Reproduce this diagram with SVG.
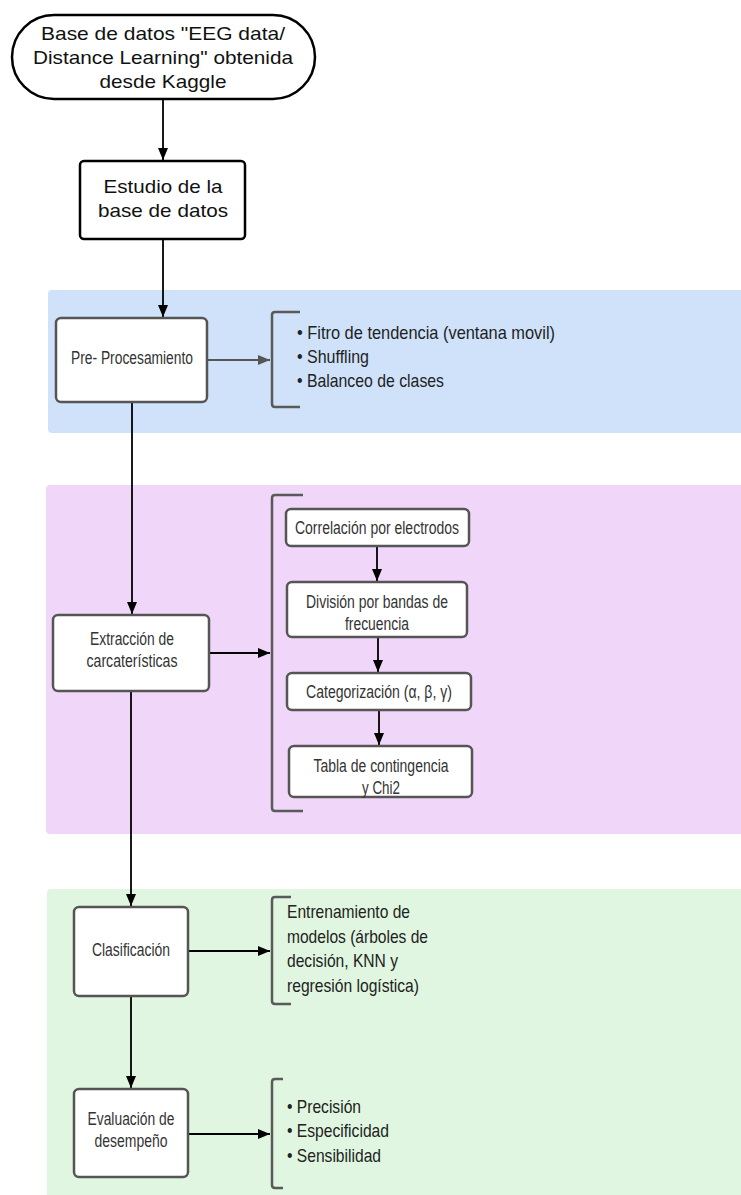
<svg xmlns="http://www.w3.org/2000/svg" width="741" height="1195" viewBox="0 0 741 1195">
<style>
.t{font-family:"Liberation Sans",Arial,sans-serif;font-size:19px;fill:#111;text-anchor:middle}
.n{font-family:"Liberation Sans",Arial,sans-serif;font-size:17.5px;fill:#333;text-anchor:middle}
.b{font-family:"Liberation Sans",Arial,sans-serif;font-size:18.5px;fill:#222}
.box{fill:#fff;stroke:#555;stroke-width:2.5}
.kbox{fill:#fff;stroke:#000;stroke-width:2.5}
.br{fill:none;stroke:#5a5a5a;stroke-width:2.5;stroke-linejoin:round}
.c{fill:none;stroke:#000;stroke-width:1.8}
.cg{fill:none;stroke:#555;stroke-width:1.8}
</style>
<defs>
<marker id="ah" markerUnits="userSpaceOnUse" markerWidth="12" markerHeight="12" viewBox="0 0 12 12" refX="12" refY="6" orient="auto"><path d="M0,1 L12,6 L0,11 Z" fill="#000"/></marker>
<marker id="ahg" markerUnits="userSpaceOnUse" markerWidth="12" markerHeight="12" viewBox="0 0 12 12" refX="12" refY="6" orient="auto"><path d="M0,1 L12,6 L0,11 Z" fill="#555"/></marker>
</defs>
<rect width="741" height="1195" fill="#fff"/>
<g id="bands">
<rect x="48" y="290" width="700" height="143" rx="4" fill="#cfe2fa"/>
<rect x="46" y="485" width="702" height="349" rx="4" fill="#f0d6f9"/>
<rect x="47" y="889" width="700" height="320" rx="4" fill="#e0f6e0"/>
</g>
<g id="connectors">
<line class="c" x1="163" y1="99" x2="163" y2="160" marker-end="url(#ah)"/>
<line class="c" x1="163" y1="239" x2="163" y2="317" marker-end="url(#ah)"/>
<line class="cg" x1="207" y1="360" x2="270" y2="360" marker-end="url(#ahg)"/>
<line class="c" x1="132" y1="402" x2="132" y2="614" marker-end="url(#ah)"/>
<line class="c" x1="209" y1="653" x2="270" y2="653" marker-end="url(#ah)"/>
<line class="c" x1="377" y1="546" x2="377" y2="581" marker-end="url(#ah)"/>
<line class="c" x1="378" y1="637" x2="378" y2="672" marker-end="url(#ah)"/>
<line class="c" x1="379" y1="710" x2="379" y2="745" marker-end="url(#ah)"/>
<line class="c" x1="131" y1="691" x2="131" y2="906" marker-end="url(#ah)"/>
<line class="c" x1="188" y1="951" x2="270" y2="951" marker-end="url(#ah)"/>
<line class="c" x1="131" y1="996" x2="131" y2="1088" marker-end="url(#ah)"/>
<line class="c" x1="188" y1="1134" x2="270" y2="1134" marker-end="url(#ah)"/>
</g>
<g id="start">
<rect class="kbox" x="12" y="15" width="303" height="84" rx="42"/>
<text class="t" x="163" y="40" textLength="244" lengthAdjust="spacingAndGlyphs">Base de datos "EEG data/</text>
<text class="t" x="163" y="64" textLength="260" lengthAdjust="spacingAndGlyphs">Distance Learning" obtenida</text>
<text class="t" x="163" y="88" textLength="127" lengthAdjust="spacingAndGlyphs">desde Kaggle</text>
</g>
<g id="estudio">
<rect class="kbox" x="80" y="161" width="165" height="78" rx="4"/>
<text class="t" x="163" y="193" textLength="119" lengthAdjust="spacingAndGlyphs">Estudio de la</text>
<text class="t" x="163" y="217" textLength="130" lengthAdjust="spacingAndGlyphs">base de datos</text>
</g>
<g id="preproc">
<rect class="box" x="56" y="318" width="151" height="84" rx="5"/>
<text class="n" x="132" y="364" textLength="122" lengthAdjust="spacingAndGlyphs">Pre- Procesamiento</text>
</g>
<g id="preproc-list">
<path class="br" d="M300,312 H275 Q272,312 272,315 V404 Q272,407 275,407 H300"/>
<text class="b" x="297" y="339" textLength="258" lengthAdjust="spacingAndGlyphs">• Fitro de tendencia (ventana movil)</text>
<text class="b" x="297" y="363" textLength="72" lengthAdjust="spacingAndGlyphs">• Shuffling</text>
<text class="b" x="297" y="387" textLength="147" lengthAdjust="spacingAndGlyphs">• Balanceo de clases</text>
</g>
<g id="extraccion">
<rect class="box" x="53" y="615" width="156" height="76" rx="5"/>
<text class="n" x="132" y="645" textLength="84" lengthAdjust="spacingAndGlyphs">Extracción de</text>
<text class="n" x="132" y="667" textLength="91" lengthAdjust="spacingAndGlyphs">carcaterísticas</text>
</g>
<g id="extraccion-list">
<path class="br" d="M303,495 H275 Q272,495 272,498 V808 Q272,811 275,811 H303"/>
</g>
<g id="correlacion">
<rect class="box" x="286" y="509" width="183" height="37" rx="5"/>
<text class="n" x="377" y="534" textLength="164" lengthAdjust="spacingAndGlyphs">Correlación por electrodos</text>
</g>
<g id="division">
<rect class="box" x="287" y="582" width="180" height="55" rx="5"/>
<text class="n" x="377" y="608" textLength="142" lengthAdjust="spacingAndGlyphs">División por bandas de</text>
<text class="n" x="377" y="630" textLength="64" lengthAdjust="spacingAndGlyphs">frecuencia</text>
</g>
<g id="categorizacion">
<rect class="box" x="287" y="673" width="184" height="37" rx="5"/>
<text class="n" x="379" y="698" textLength="146" lengthAdjust="spacingAndGlyphs">Categorización (α, β, γ)</text>
</g>
<g id="tabla">
<rect class="box" x="289" y="746" width="183" height="51" rx="5"/>
<text class="n" x="381" y="772" textLength="135" lengthAdjust="spacingAndGlyphs">Tabla de contingencia</text>
<text class="n" x="381" y="794" textLength="38" lengthAdjust="spacingAndGlyphs">y Chi2</text>
</g>
<g id="clasificacion">
<rect class="box" x="74" y="907" width="114" height="89" rx="5"/>
<text class="n" x="131" y="956" textLength="78" lengthAdjust="spacingAndGlyphs">Clasificación</text>
</g>
<g id="clasificacion-list">
<path class="br" d="M291,897 H275 Q272,897 272,900 V1001 Q272,1004 275,1004 H291"/>
<text class="b" x="287" y="918" textLength="123" lengthAdjust="spacingAndGlyphs">Entrenamiento de</text>
<text class="b" x="287" y="943" textLength="141" lengthAdjust="spacingAndGlyphs">modelos (árboles de</text>
<text class="b" x="287" y="967" textLength="111" lengthAdjust="spacingAndGlyphs">decisión, KNN y</text>
<text class="b" x="287" y="992" textLength="132" lengthAdjust="spacingAndGlyphs">regresión logística)</text>
</g>
<g id="evaluacion">
<rect class="box" x="74" y="1089" width="114" height="88" rx="5"/>
<text class="n" x="131" y="1125" textLength="87" lengthAdjust="spacingAndGlyphs">Evaluación de</text>
<text class="n" x="131" y="1147" textLength="73" lengthAdjust="spacingAndGlyphs">desempeño</text>
</g>
<g id="evaluacion-list">
<path class="br" d="M283,1079 H275 Q272,1079 272,1082 V1185 Q272,1188 275,1188 H283"/>
<text class="b" x="287" y="1113" textLength="74" lengthAdjust="spacingAndGlyphs">• Precisión</text>
<text class="b" x="287" y="1137" textLength="102" lengthAdjust="spacingAndGlyphs">• Especificidad</text>
<text class="b" x="287" y="1162" textLength="94" lengthAdjust="spacingAndGlyphs">• Sensibilidad</text>
</g>
</svg>
